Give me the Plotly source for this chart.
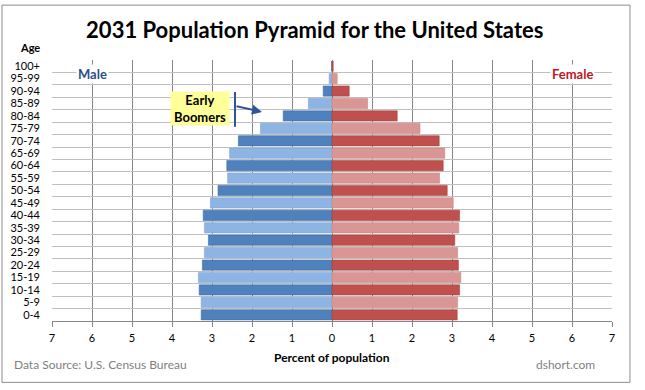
import plotly.graph_objects as go

age_groups = ["0-4", "5-9", "10-14", "15-19", "20-24", "25-29", "30-34", "35-39",
              "40-44", "45-49", "50-54", "55-59", "60-64", "65-69", "70-74", "75-79",
              "80-84", "85-89", "90-94", "95-99", "100+"]
male_pct = [3.27, 3.27, 3.32, 3.34, 3.24, 3.19, 3.09, 3.19, 3.22, 3.04, 2.85,
            2.61, 2.63, 2.56, 2.34, 1.79, 1.22, 0.59, 0.22, 0.07, 0.01]
female_pct = [3.13, 3.14, 3.19, 3.22, 3.16, 3.14, 3.07, 3.17, 3.19, 3.03, 2.88,
              2.69, 2.78, 2.82, 2.68, 2.20, 1.63, 0.89, 0.43, 0.13, 0.03]
x_ticks = [-7, -6, -5, -4, -3, -2, -1, 0, 1, 2, 3, 4, 5, 6, 7]

male_colors = ["#4F81BD" if i % 2 == 0 else "#8DB4E2" for i in range(len(age_groups))]
male_edge = ["#3F6FA8" if i % 2 == 0 else "#7FA6D6" for i in range(len(age_groups))]
female_colors = ["#C0504D" if i % 2 == 0 else "#DA9694" for i in range(len(age_groups))]
female_edge = ["#A94440" if i % 2 == 0 else "#C98684" for i in range(len(age_groups))]

FONT = "Lato"

fig = go.Figure()
fig.add_trace(go.Bar(
    y=age_groups, x=[-v for v in male_pct], orientation="h", name="Male",
    marker=dict(color=male_colors, line=dict(color=male_edge, width=0.6)),
    hoverinfo="skip"))
fig.add_trace(go.Bar(
    y=age_groups, x=female_pct, orientation="h", name="Female",
    marker=dict(color=female_colors, line=dict(color=female_edge, width=0.6)),
    hoverinfo="skip"))

fig.update_layout(
    width=645, height=390,
    margin=dict(l=52, r=33, t=60, b=68.5, autoexpand=False),
    paper_bgcolor="white", plot_bgcolor="white",
    barmode="relative", bargap=0.18, showlegend=False,
    font=dict(family=FONT, size=11, color="black"),
    title=dict(text="<b>2031 Population Pyramid for the United States</b>",
               x=0.488, xanchor="center", y=0.923, yanchor="middle",
               font=dict(family=FONT, size=22, color="black")),
    xaxis=dict(range=[-7, 7], tickvals=x_ticks, ticktext=[str(abs(v)) for v in x_ticks],
               showgrid=True, gridcolor="#868686", gridwidth=1,
               zeroline=True, zerolinecolor="#868686", zerolinewidth=1,
               showline=True, linecolor="#868686", linewidth=1,
               ticks="outside", ticklen=5, tickcolor="#868686",
               tickfont=dict(family=FONT, size=11, color="black"),
               ticklabelstandoff=2, fixedrange=True),
    yaxis=dict(type="category", categoryorder="array", categoryarray=age_groups,
               tickmode="linear", tick0=0, dtick=1,
               tickson="boundaries", showgrid=True, gridcolor="#BFBFBF", gridwidth=1,
               ticks="", showline=False, zeroline=False,
               tickfont=dict(family=FONT, size=11, color="black"),
               ticklabelstandoff=11, fixedrange=True),
)

# outer frame
fig.add_shape(type="rect", xref="paper", yref="paper",
              x0=-0.0893, x1=1.0321, y0=-0.2352, y1=1.2103,
              line=dict(color="#8C8C8C", width=1), fillcolor="rgba(0,0,0,0)", layer="below")

# Male / Female labels
fig.add_annotation(x=-6, y=0.9465, xref="x", yref="paper", text="<b>Male</b>",
                   xanchor="center", yanchor="middle",
                   showarrow=False, bgcolor="white", borderpad=1,
                   font=dict(family=FONT, size=13, color="#2C4F8C"))
fig.add_annotation(x=6, y=0.9465, xref="x", yref="paper", text="<b>Female</b>",
                   xanchor="center", yanchor="middle",
                   showarrow=False, bgcolor="white", borderpad=1,
                   font=dict(family=FONT, size=13, color="#C0161E"))

# Early Boomers callout
fig.add_annotation(x=-3.3, y=0.8126, xref="x", yref="paper", text="<b>Early<br>Boomers</b>",
                   xanchor="center", yanchor="middle",
                   showarrow=False, bgcolor="#FFFF99", width=56, height=31,
                   font=dict(family=FONT, size=13, color="black"))
fig.add_shape(type="line", xref="x", yref="paper", x0=-2.425, x1=-2.425,
              y0=0.7438, y1=0.8776, line=dict(color="#2F5597", width=2))
fig.add_annotation(x=-1.75, y=0.8011, xref="x", yref="paper", ax=-27, ay=-6,
                   axref="pixel", ayref="pixel", text="", showarrow=True,
                   arrowhead=2, arrowsize=1, arrowwidth=2, arrowcolor="#2F5597")

# Age label and footer texts
fig.add_annotation(x=-0.039, y=1.0497, xref="paper", yref="paper", text="<b>Age</b>",
                   xanchor="center", yanchor="middle",
                   showarrow=False, font=dict(family=FONT, size=11, color="black"))
fig.add_annotation(x=0.5, y=-0.1396, xref="paper", yref="paper",
                   xanchor="center", yanchor="middle",
                   text="<b>Percent of population</b>", showarrow=False,
                   font=dict(family=FONT, size=12, color="black"))
fig.add_annotation(x=-0.0714, y=-0.1663, xref="paper", yref="paper",
                   xanchor="left", yanchor="middle",
                   text="Data Source: U.S. Census Bureau", showarrow=False,
                   font=dict(family=FONT, size=12, color="#7F7F7F"))
fig.add_annotation(x=0.9732, y=-0.1663, xref="paper", yref="paper",
                   xanchor="right", yanchor="middle",
                   text="dshort.com", showarrow=False,
                   font=dict(family=FONT, size=12, color="#7F7F7F"))

fig.write_html("out.html", config={"displayModeBar": False},
               post_script="document.body.style.margin='0';document.body.style.overflow='hidden';")
